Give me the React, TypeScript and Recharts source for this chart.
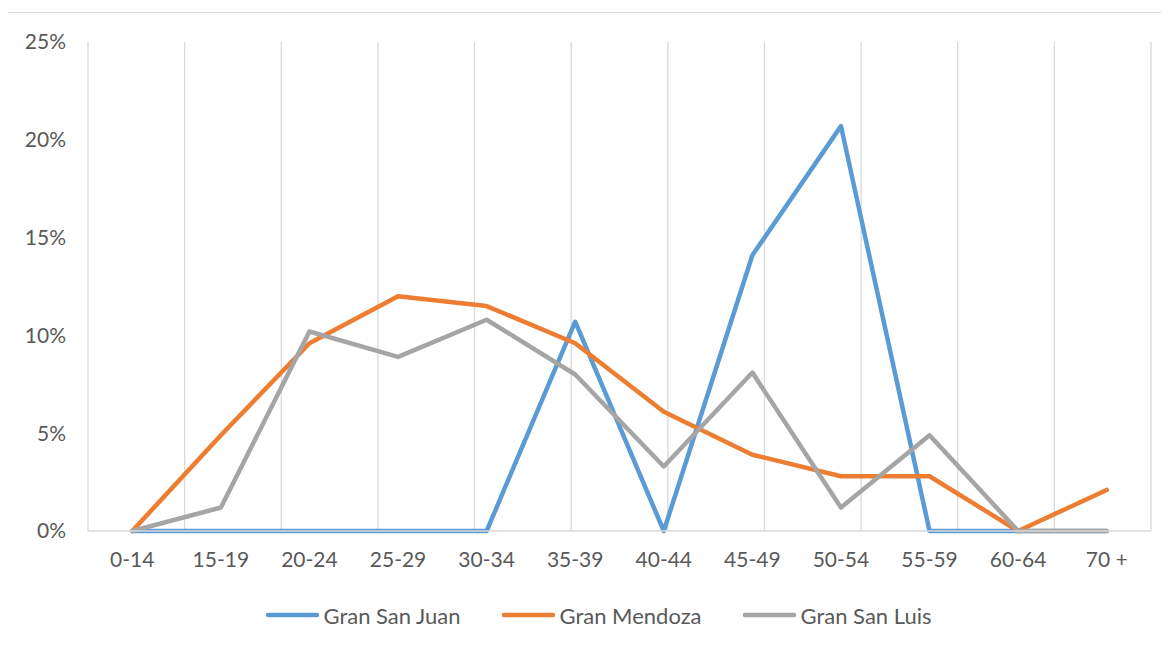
import React from 'react';
import { LineChart, Line, XAxis, YAxis, CartesianGrid, Legend } from 'recharts';

const categories = ['0-14', '15-19', '20-24', '25-29', '30-34', '35-39', '40-44', '45-49', '50-54', '55-59', '60-64', '70 +'];
const granSanJuan = [0, 0, 0, 0, 0, 10.7, 0, 14.1, 20.7, 0, 0, 0];
const granMendoza = [0, 4.9, 9.6, 12.0, 11.5, 9.6, 6.1, 3.9, 2.8, 2.8, 0, 2.1];
const granSanLuis = [0, 1.2, 10.2, 8.9, 10.8, 8.0, 3.3, 8.1, 1.2, 4.9, 0, 0];
const seriesNames = ['Gran San Juan', 'Gran Mendoza', 'Gran San Luis'];
const yTicks = [0, 5, 10, 15, 20, 25];
const gridTicks = [0, 1, 2, 3, 4, 5, 6, 7, 8, 9, 10, 11, 12];

const data = categories.map((cat, i) => ({
  cat,
  sanJuan: granSanJuan[i],
  mendoza: granMendoza[i],
  sanLuis: granSanLuis[i],
}));

const FONT = 'Lato, "Open Sans", sans-serif';
const TEXT = '#595959';
const GRID = '#d9d9d9';

const LegendContent = (props: any) => {
  const payload = [...(props.payload || [])].sort(
    (a: any, b: any) => seriesNames.indexOf(a.value) - seriesNames.indexOf(b.value)
  );
  return (
    <div style={{ display: 'flex', justifyContent: 'center', alignItems: 'center', height: 30, paddingLeft: 19, fontFamily: FONT }}>
      {payload.map((e: any, i: number) => (
        <div key={i} style={{ display: 'flex', alignItems: 'center', marginRight: i < payload.length - 1 ? 40 : 0 }}>
          <svg width={55} height={10}>
            <line x1={3} x2={52} y1={5} y2={5} stroke={e.color} strokeWidth={4.5} strokeLinecap="round" />
          </svg>
          <span style={{ marginLeft: 4, color: TEXT, fontSize: 22 }}>{e.value}</span>
        </div>
      ))}
    </div>
  );
};

export default function App() {
  return (
    <div style={{ position: 'relative', width: 1161, height: 638, fontFamily: FONT }}>
      <div style={{ position: 'absolute', top: 4, left: -1, right: -8, bottom: -8, borderTop: `1.5px solid ${GRID}`, borderLeft: `1.5px solid ${GRID}` }} />
      <LineChart width={1161} height={638} data={data} margin={{ top: 34, right: 18, left: 20, bottom: 0 }}>
        <XAxis xAxisId="grid" type="number" domain={[0, 12]} ticks={gridTicks} hide />
        <CartesianGrid xAxisId="grid" horizontal={false} stroke={GRID} strokeWidth={1.3} />
        <XAxis
          dataKey="cat"
          scale="band"
          interval={0}
          axisLine={{ stroke: GRID, strokeWidth: 1.5 }}
          tickLine={false}
          tickSize={0}
          tickMargin={21}
          height={85}
          tick={{ fill: TEXT, fontSize: 21, fontFamily: FONT }}
        />
        <YAxis
          domain={[0, 25]}
          ticks={yTicks}
          width={60}
          axisLine={false}
          tickLine={false}
          tickSize={0}
          tickMargin={22}
          tickFormatter={(v: number) => `${v}%`}
          tick={{ fill: TEXT, fontSize: 21, fontFamily: FONT }}
        />
        <Line type="linear" dataKey="sanJuan" name="Gran San Juan" stroke="#5B9BD5" strokeWidth={4.5} dot={false} strokeLinecap="round" strokeLinejoin="round" isAnimationActive={false} />
        <Line type="linear" dataKey="mendoza" name="Gran Mendoza" stroke="#ED7D31" strokeWidth={4.5} dot={false} strokeLinecap="round" strokeLinejoin="round" isAnimationActive={false} />
        <Line type="linear" dataKey="sanLuis" name="Gran San Luis" stroke="#A5A5A5" strokeWidth={4.5} dot={false} strokeLinecap="round" strokeLinejoin="round" isAnimationActive={false} />
        <Legend verticalAlign="bottom" content={LegendContent} wrapperStyle={{ left: 0, width: 1161, top: 592, bottom: 'auto' }} />
      </LineChart>
    </div>
  );
}
